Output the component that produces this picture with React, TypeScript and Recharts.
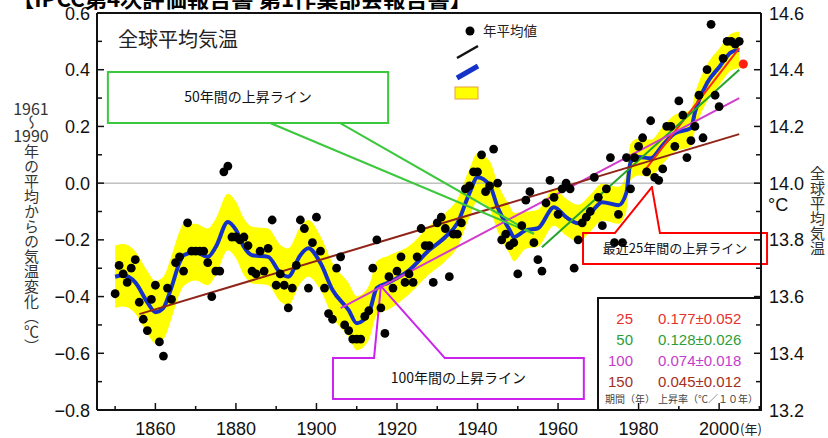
import React from 'react';
import { ComposedChart, XAxis, YAxis, Line, Area, Scatter, ReferenceLine, ReferenceArea } from 'recharts';

// annual global mean anomalies (°C vs 1961-1990), one value per year from 1850
const FIRST_YEAR = 1850;
const ANNUAL = [
  -0.39, -0.29, -0.32, -0.35, -0.30, -0.27, -0.42, -0.48, -0.52, -0.41,
  -0.36, -0.56, -0.61, -0.37, -0.41, -0.28, -0.26, -0.31, -0.14, -0.24,
  -0.24, -0.24, -0.24, -0.28, -0.40, -0.31, -0.31, 0.04, 0.06, -0.19,
  -0.19, -0.20, -0.19, -0.22, -0.31, -0.32, -0.24, -0.31, -0.23, -0.13,
  -0.36, -0.32, -0.36, -0.44, -0.37, -0.29, -0.13, -0.16, -0.37, -0.21,
  -0.12, -0.24, -0.37, -0.46, -0.48, -0.30, -0.26, -0.50, -0.52, -0.55,
  -0.55, -0.55, -0.47, -0.45, -0.30, -0.20, -0.44, -0.53, -0.33, -0.37,
  -0.31, -0.26, -0.35, -0.32, -0.35, -0.26, -0.16, -0.22, -0.22, -0.35,
  -0.14, -0.12, -0.16, -0.33, -0.18, -0.18, -0.14, -0.02, -0.01, 0.04,
  0.04, 0.10, -0.03, -0.01, 0.12, 0.00, -0.20, -0.18, -0.22, -0.21,
  -0.32, -0.15, -0.06, -0.03, -0.21, -0.27, -0.31, -0.07, 0.01, -0.05,
  -0.11, -0.02, 0.00, -0.02, -0.30, -0.20, -0.14, -0.12, -0.10, 0.02,
  -0.05, -0.15, -0.02, 0.09, -0.21, -0.11, -0.21, 0.09, -0.02, 0.09,
  0.13, 0.16, 0.04, 0.22, 0.02, 0.01, 0.05, 0.20, 0.20, 0.13,
  0.29, 0.24, 0.09, 0.15, 0.20, 0.31, 0.16, 0.40, 0.56, 0.31,
  0.27, 0.44, 0.50, 0.50, 0.49, 0.50,
];
const LATEST_YEAR = 2006;
const LATEST_VALUE = 0.42;

// decadal smoothed curve and its uncertainty band
const SMOOTH_YEARS = [
  1850, 1852, 1855, 1858, 1860, 1862, 1864, 1866, 1867, 1870,
  1873, 1875, 1878, 1880, 1882, 1884, 1888, 1891, 1893, 1896,
  1898, 1901, 1904, 1908, 1910, 1913, 1915, 1918, 1923, 1928,
  1932, 1935, 1938, 1940, 1943, 1945, 1948, 1949, 1952, 1955,
  1959, 1962, 1965, 1968, 1971, 1975, 1977, 1978, 1980, 1983,
  1986, 1989, 1993, 1994, 1997, 2000, 2003, 2005,
];
const SMOOTH_VALUES = [
  -0.33, -0.325, -0.35, -0.42, -0.455, -0.44, -0.367, -0.28, -0.254, -0.243,
  -0.26, -0.225, -0.137, -0.165, -0.225, -0.254, -0.26, -0.317, -0.33, -0.254,
  -0.23, -0.282, -0.377, -0.448, -0.494, -0.458, -0.37, -0.35, -0.307, -0.236,
  -0.19, -0.141, -0.035, 0.021, -0.007, -0.085, -0.166, -0.19, -0.166, -0.159,
  -0.085, -0.12, -0.141, -0.106, -0.067, -0.078, -0.032, 0.074, 0.092, 0.088,
  0.134, 0.176, 0.194, 0.25, 0.353, 0.409, 0.462, 0.47,
];
const BAND_HALF = [
  0.11, 0.11, 0.11, 0.11, 0.11, 0.11, 0.11, 0.11, 0.11, 0.10,
  0.10, 0.10, 0.10, 0.10, 0.10, 0.10, 0.10, 0.10, 0.10, 0.10,
  0.10, 0.095, 0.095, 0.095, 0.095, 0.095, 0.095, 0.095, 0.085, 0.085,
  0.085, 0.085, 0.085, 0.085, 0.085, 0.085, 0.085, 0.085, 0.065, 0.065,
  0.065, 0.065, 0.065, 0.065, 0.065, 0.065, 0.065, 0.065, 0.065, 0.065,
  0.065, 0.065, 0.065, 0.065, 0.065, 0.065, 0.065, 0.065,
];

// linear trends: 25, 50, 100, 150 years ending 2005
const TREND_PERIODS = ['25', '50', '100', '150'];
const TREND_RATES = ['0.177±0.052', '0.128±0.026', '0.074±0.018', '0.045±0.012'];
const TREND_START_YEARS = [1981, 1956, 1906, 1856];
const TREND_END_YEAR = 2005;
const TREND_START_VALUES = [0.035, -0.226, -0.441, -0.462];
const TREND_END_VALUES = [0.476, 0.40, 0.30, 0.173];
const TREND_LINE_COLORS = ['#ff2a12', '#22a52a', '#d23ccc', '#902418'];
const TREND_TEXT_COLORS = ['#e8302c', '#2c9e38', '#c63ccc', '#a3301e'];

const X_DOMAIN = [1845.5, 2010.4];
const X_TICKS = [1850, 1860, 1870, 1880, 1890, 1900, 1910, 1920, 1930, 1940, 1950, 1960, 1970, 1980, 1990, 2000, 2010];
const X_LABELS = [1860, 1880, 1900, 1920, 1940, 1960, 1980, 2000];
const LEFT_TICKS = [-0.8, -0.7, -0.6, -0.5, -0.4, -0.3, -0.2, -0.1, 0, 0.1, 0.2, 0.3, 0.4, 0.5, 0.6];
const RIGHT_TICKS = [13.2, 13.3, 13.4, 13.5, 13.6, 13.7, 13.8, 13.9, 14.0, 14.1, 14.2, 14.3, 14.4, 14.5, 14.6];

const annualData = ANNUAL.map((v, i) => ({ year: FIRST_YEAR + i, v }));
const latestData = [{ year: LATEST_YEAR, v: LATEST_VALUE }];
const smoothData = SMOOTH_YEARS.map((year, i) => ({
  year,
  v: SMOOTH_VALUES[i],
  band: [SMOOTH_VALUES[i] - BAND_HALF[i], SMOOTH_VALUES[i] + BAND_HALF[i]],
}));
const trends = TREND_PERIODS.map((p, i) => ({
  key: p,
  color: TREND_LINE_COLORS[i],
  points: [
    { year: TREND_START_YEARS[i], v: TREND_START_VALUES[i] },
    { year: TREND_END_YEAR, v: TREND_END_VALUES[i] },
  ],
}));

// callout outlines in data coordinates (year, anomaly)
const GREEN_BOX = { x1: 1848.2, x2: 1917.8, y1: 0.212, y2: 0.392 };
const GREEN_LEADERS = [
  [[1888.5, 0.212], [1954.0, -0.179]],
  [[1905.9, 0.212], [1954.0, -0.179]],
];
const PURPLE_OUTLINE = [
  [1914.3, -0.617], [1916.0, -0.363], [1931.9, -0.617], [1966.4, -0.617],
  [1966.4, -0.761], [1904.1, -0.761], [1904.1, -0.617], [1914.3, -0.617],
];
const RED_OUTLINE = [
  [1974.1, -0.176], [1983.3, -0.014], [1985.3, -0.176], [2011.9, -0.176],
  [2011.9, -0.285], [1966.2, -0.285], [1966.2, -0.176], [1974.1, -0.176],
];

const NUM = "'Liberation Sans', Arial, sans-serif";
const JP = "'Noto Sans CJK JP', 'Noto Sans', sans-serif";
const AXIS = '#111';
const BLUE = '#1432c8';

const isMajorTenth = (v: number) => Math.round(v * 10) % 2 === 0;
const fmtLeft = (v: number) => (v < 0 ? '\u2212' + Math.abs(v).toFixed(1) : v.toFixed(1));

function LeftTick(props: any) {
  const { x, y, payload } = props;
  const v = payload.value as number;
  const major = isMajorTenth(v);
  return (
    <g>
      <line x1={x} x2={x + (major ? 7 : 5)} y1={y} y2={y} stroke={AXIS} strokeWidth={1.5} />
      {major && (
        <text x={x - 7} y={y + 6.5} textAnchor="end" fontSize={18} fontFamily={NUM} fill="#111">
          {fmtLeft(v)}
        </text>
      )}
    </g>
  );
}

function RightTick(props: any) {
  const { x, y, payload } = props;
  const v = payload.value as number;
  const major = isMajorTenth(v);
  return (
    <g>
      <line x1={x} x2={x - (major ? 7 : 5)} y1={y} y2={y} stroke={AXIS} strokeWidth={1.5} />
      {major && (
        <text x={x + 8} y={y + 6.5} textAnchor="start" fontSize={18} fontFamily={NUM} fill="#111">
          {v.toFixed(1)}
        </text>
      )}
    </g>
  );
}

function BottomTick(props: any) {
  const { x, y, payload } = props;
  const v = payload.value as number;
  const labeled = X_LABELS.includes(v);
  return (
    <g>
      <line x1={x} x2={x} y1={y} y2={y - (labeled ? 7 : 4)} stroke={AXIS} strokeWidth={1.5} />
      {labeled && (
        <text x={x} y={y + 25} textAnchor="middle" fontSize={18} fontFamily={NUM} fill="#111">
          {v}
        </text>
      )}
      {v === 2000 && (
        <text x={x + 21} y={y + 24} fontSize={13} fontFamily={JP} fill="#222">
          (年)
        </text>
      )}
    </g>
  );
}

const blackDot = (p: any) => <circle cx={p.cx} cy={p.cy} r={4.4} fill="#000" />;
const redDot = (p: any) => <circle cx={p.cx} cy={p.cy} r={4.6} fill="#ff2010" />;

const toSegments = (pts: number[][]) =>
  pts.slice(1).map((pt, i) => [
    { x: pts[i][0], y: pts[i][1] },
    { x: pt[0], y: pt[1] },
  ]);

export default function App() {
  const ids = { xAxisId: 'x', yAxisId: 'left' };
  return (
    <div style={{ position: 'absolute', left: 0, top: 0, width: 828, height: 438, background: '#fff', overflow: 'hidden' }}>
      <ComposedChart width={828} height={438} margin={{ top: 13, right: 0, bottom: 0, left: 0 }}>
        <XAxis
          xAxisId="x"
          dataKey="year"
          type="number"
          domain={X_DOMAIN}
          allowDataOverflow
          ticks={X_TICKS}
          interval={0}
          tickSize={0}
          tickMargin={0}
          tickLine={false}
          tick={(p: any) => <BottomTick {...p} />}
          axisLine={{ stroke: AXIS, strokeWidth: 2 }}
          height={28}
        />
        <XAxis
          xAxisId="top"
          orientation="top"
          mirror
          type="number"
          domain={X_DOMAIN}
          allowDataOverflow
          ticks={X_TICKS}
          interval={0}
          tick={false}
          tickSize={5}
          tickLine={{ stroke: AXIS, strokeWidth: 1.5 }}
          axisLine={{ stroke: AXIS, strokeWidth: 2 }}
        />
        <YAxis
          yAxisId="left"
          type="number"
          domain={[-0.8, 0.6]}
          allowDataOverflow
          ticks={LEFT_TICKS}
          interval={0}
          tickSize={0}
          tickMargin={0}
          tickLine={false}
          tick={(p: any) => <LeftTick {...p} />}
          axisLine={{ stroke: AXIS, strokeWidth: 2 }}
          width={97}
        />
        <YAxis
          yAxisId="right"
          orientation="right"
          type="number"
          domain={[13.2, 14.6]}
          allowDataOverflow
          ticks={RIGHT_TICKS}
          interval={0}
          tickSize={0}
          tickMargin={0}
          tickLine={false}
          tick={(p: any) => <RightTick {...p} />}
          axisLine={{ stroke: AXIS, strokeWidth: 2 }}
          width={67}
        />

        <ReferenceLine {...ids} y={0} stroke="#a0a0a0" strokeWidth={1} />

        <Area
          {...ids}
          data={smoothData}
          dataKey="band"
          type="monotone"
          stroke="none"
          fill="#ffff00"
          fillOpacity={1}
          isAnimationActive={false}
        />
        <Line
          {...ids}
          data={smoothData}
          dataKey="v"
          type="monotone"
          stroke={BLUE}
          strokeWidth={4}
          dot={false}
          activeDot={false}
          isAnimationActive={false}
        />
        <Scatter {...ids} data={annualData} dataKey="v" shape={blackDot} isAnimationActive={false} />
        {trends.map((t) => (
          <Line
            key={t.key}
            {...ids}
            data={t.points}
            dataKey="v"
            type="linear"
            stroke={t.color}
            strokeWidth={2}
            dot={false}
            activeDot={false}
            isAnimationActive={false}
          />
        ))}
        <Scatter {...ids} data={latestData} dataKey="v" shape={redDot} isAnimationActive={false} />

        {/* 50-year callout */}
        <ReferenceArea
          {...ids}
          {...GREEN_BOX}
          ifOverflow="visible"
          fill="none"
          stroke="#3cc83c"
          strokeWidth={2}
          label={{ value: '50年間の上昇ライン', position: 'center', fill: '#111', fontSize: 14, fontFamily: JP }}
        />
        {GREEN_LEADERS.map((seg, i) => (
          <ReferenceLine
            key={'g' + i}
            {...ids}
            ifOverflow="visible"
            segment={toSegments(seg)[0]}
            stroke="#3cc83c"
            strokeWidth={2}
          />
        ))}

        {/* 100-year callout */}
        {toSegments(PURPLE_OUTLINE).map((seg, i) => (
          <ReferenceLine key={'p' + i} {...ids} ifOverflow="visible" segment={seg} stroke="#cc22ee" strokeWidth={2} strokeLinecap="round" />
        ))}
        <ReferenceArea
          {...ids}
          x1={1904.1}
          x2={1966.4}
          y1={-0.761}
          y2={-0.617}
          ifOverflow="visible"
          fill="none"
          stroke="none"
          label={{ value: '100年間の上昇ライン', position: 'center', fill: '#111', fontSize: 14, fontFamily: JP }}
        />

        {/* 25-year callout */}
        {toSegments(RED_OUTLINE).map((seg, i) => (
          <ReferenceLine key={'r' + i} {...ids} ifOverflow="visible" segment={seg} stroke="#ff0000" strokeWidth={2} strokeLinecap="round" />
        ))}
        <ReferenceArea
          {...ids}
          x1={1966.2}
          x2={2011.9}
          y1={-0.285}
          y2={-0.176}
          ifOverflow="visible"
          fill="none"
          stroke="none"
          label={{ value: '最近25年間の上昇ライン', position: 'center', fill: '#111', fontSize: 13, fontFamily: JP }}
        />
      </ComposedChart>

      <svg width={828} height={438} style={{ position: 'absolute', left: 0, top: 0, pointerEvents: 'none' }}>
        <text x={12} y={7} fontSize={21} fontWeight="bold" fontFamily={JP} fill="#000" textLength={460} lengthAdjust="spacingAndGlyphs">
          【IPCC第4次評価報告書 第1作業部会報告書】
        </text>
        <text x={118} y={47} fontSize={20} fontFamily={JP} fill="#222">全球平均気温</text>

        {/* legend */}
        <circle cx={470} cy={31} r={4.5} fill="#000" />
        <text x={483} y={36} fontSize={13.5} fontFamily={JP} fill="#222">年平均値</text>
        <line x1={457} y1={58} x2={478} y2={46} stroke="#111" strokeWidth={2.5} />
        <line x1={457} y1={78} x2={478} y2={66} stroke={BLUE} strokeWidth={5} />
        <rect x={455} y={87} width={23} height={12} fill="#ffff00" stroke="#e8a040" strokeWidth={1} />

        {/* trend rate table */}
        <rect x={598} y={298} width={163} height={112} fill="none" stroke="#111" strokeWidth={2} />
        {TREND_PERIODS.map((p, i) => (
          <g key={p}>
            <text x={633} y={323.5 + i * 21.3} textAnchor="end" fontSize={15} fontFamily={NUM} fill={TREND_TEXT_COLORS[i]}>
              {p}
            </text>
            <text x={658} y={323.5 + i * 21.3} fontSize={15} fontFamily={NUM} fill={TREND_TEXT_COLORS[i]}>
              {TREND_RATES[i]}
            </text>
          </g>
        ))}
        <text x={605} y={403} fontSize={10} fontFamily={JP} fill="#444">期間（年）</text>
        <text x={658} y={403} fontSize={10} fontFamily={JP} fill="#444">上昇率（℃／１０年）</text>

        <text x={768} y={210.5} fontSize={18} fontFamily={NUM} fill="#111">°C</text>
      </svg>

      <div style={{ position: 'absolute', left: 0, top: 100, width: 62, textAlign: 'center', fontSize: 16, lineHeight: '16px', fontFamily: JP, color: '#333' }}>1961</div>
      <div style={{ position: 'absolute', left: 23, top: 115, writingMode: 'vertical-rl', fontSize: 15, lineHeight: '16px', fontFamily: JP, color: '#333' }}>〜</div>
      <div style={{ position: 'absolute', left: 0, top: 127, width: 62, textAlign: 'center', fontSize: 16, lineHeight: '16px', fontFamily: JP, color: '#333' }}>1990</div>
      <div style={{ position: 'absolute', left: 23, top: 144, writingMode: 'vertical-rl', fontSize: 15, lineHeight: '16px', fontFamily: JP, color: '#333' }}>
        年の平均からの気温変化（℃）
      </div>
      <div style={{ position: 'absolute', left: 809, top: 166, writingMode: 'vertical-rl', fontSize: 15, lineHeight: '16px', fontFamily: JP, color: '#333' }}>
        全球平均気温
      </div>
    </div>
  );
}
